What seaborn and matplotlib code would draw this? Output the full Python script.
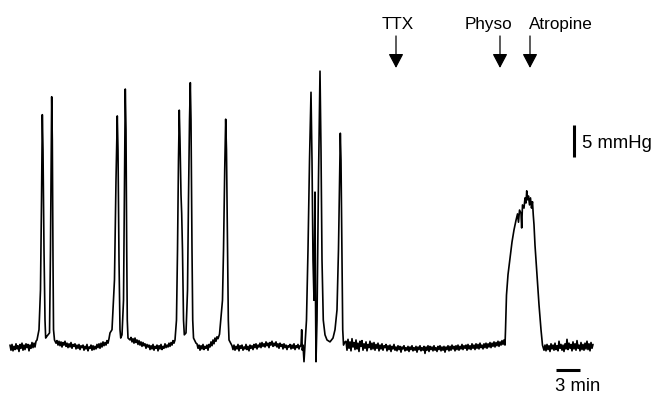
import numpy as np
import pandas as pd
import matplotlib
matplotlib.use("Agg")
import matplotlib.pyplot as plt
import seaborn as sns

# ---- data: intraluminal pressure trace (time in min, pressure in mmHg above baseline) ----
# baseline stretches are sampled every 0.125 min starting at the given time
SAMPLE_STEP = 0.125

base1_start = 0.0
base1_p = [0.3, -0.5, 0.4, -0.6, 0.1, -0.4, 0.5, -0.3, 0.2, -0.7, 0.4, -0.2, 0.6, -0.5,
           0.3, -0.4, 0.5, -0.1, 0.4, -0.6, 0.3, -0.2, 0.7, -0.1, 0.6, 0.0, 0.9]

burst1_t = [3.375, 3.625, 3.81, 3.94, 4.04, 4.125, 4.25, 4.375, 4.46, 4.625, 4.94, 5.06,
            5.15, 5.21, 5.29, 5.375, 5.44, 5.56, 5.75]
burst1_p = [1.1, 2.7, 8.9, 23.0, 36.3, 30.8, 15.2, 4.2, 1.4, 1.7, 2.2, 15.2,
            30.8, 39.1, 32.3, 13.6, 2.7, 1.1, 0.6]

base2_start = 5.875
base2_p = [1.0, 0.3, 0.9, 0.2, 0.8, 0.0, 0.7, 0.3, 0.9, 0.1,
           0.6, -0.1, 0.5, 0.0, 0.7, -0.2, 0.4, 0.1, 0.5, -0.3,
           0.3, -0.2, 0.4, -0.4, 0.2, -0.1, 0.3, -0.5, 0.1, -0.3,
           0.4, -0.6, 0.0, -0.2, 0.3, -0.5, 0.2, -0.4, 0.1, -0.3,
           0.4, -0.1, 0.5, -0.2, 0.6, 0.0, 0.8, 0.2, 0.7, 0.3,
           1.0, 0.6, 1.3]

burst2_t = [12.5, 12.75, 13.06, 13.25, 13.41, 13.5, 13.625, 13.75, 13.84, 14.0, 14.19,
            14.31, 14.41, 14.5, 14.59, 14.66, 14.75, 15.0]
burst2_p = [2.2, 2.7, 10.5, 26.1, 36.1, 30.8, 13.6, 2.7, 1.4, 1.9, 7.3,
            26.1, 40.3, 33.9, 15.2, 4.2, 1.4, 1.1]

base3_start = 15.125
base3_p = [1.5, 0.8, 1.3, 0.6, 1.4, 0.7, 1.1, 0.4, 1.0, 0.3,
           0.8, 0.1, 0.7, 0.2, 0.5, -0.2, 0.4, 0.0, 0.3, -0.4,
           0.2, -0.3, 0.4, -0.5, 0.1, -0.2, 0.3, -0.6, 0.2, -0.3,
           0.4, -0.4, 0.1, -0.2, 0.5, -0.1, 0.3, 0.0, 0.6, 0.1,
           0.7, 0.3, 1.0, 0.6]

burst3_t = [20.625, 20.81, 20.94, 21.06, 21.16, 21.25, 21.375, 21.46, 21.56, 21.69, 21.79,
            22.0, 22.19, 22.31, 22.44, 22.54, 22.625, 22.75, 22.84, 22.94, 23.25]
burst3_p = [1.1, 4.2, 15.2, 29.2, 37.0, 32.3, 23.8, 20.9, 15.2, 4.2, 1.9,
            2.2, 8.9, 23.0, 35.5, 41.3, 35.5, 15.2, 4.2, 1.4, 0.6]

base4_start = 23.375
base4_p = [0.5, -0.2, 0.3, -0.5, 0.2, -0.3, 0.4, -0.4, 0.1, -0.2,
           0.3, -0.5, 0.4, 0.0, 0.8, 0.2, 1.1, 0.5, 1.4, 0.9, 1.6, 1.3]

burst4_t = [26.19, 26.375, 26.56, 26.69, 26.84, 26.96, 27.06, 27.19, 27.29, 27.375, 27.625]
burst4_p = [2.0, 4.7, 7.3, 15.2, 27.7, 35.6, 30.8, 15.2, 4.2, 1.1, 0.5]

base5_start = 27.75
base5_p = [0.2, -0.4, 0.3, -0.5, 0.1, -0.3, 0.4, -0.6, 0.2, -0.2,
           0.3, -0.5, 0.0, -0.3, 0.4, -0.4, 0.1, -0.6, 0.3, -0.2,
           0.2, -0.4, 0.4, -0.1, 0.5, -0.3, 0.3, 0.0, 0.6, -0.1,
           0.7, 0.1, 0.5, 0.0, 0.8, 0.2, 0.6, -0.1, 0.7, 0.3,
           0.9, 0.1, 0.6, 0.2, 0.8, 0.0, 0.5, -0.2, 0.6, 0.1,
           0.4, -0.3, 0.5, -0.1, 0.3, -0.4, 0.2, 0.0, 0.4, -0.3,
           0.3, -0.2, 0.5, -0.4, 0.2, -0.1, 0.4, -0.3, 0.2]

burst5_t = [36.375, 36.46, 36.54, 36.625, 36.75, 36.875, 37.06, 37.25, 37.44, 37.625, 37.75,
            37.875, 38.0, 38.125, 38.19, 38.25, 38.375, 38.56, 38.75, 38.875, 39.0, 39.16,
            39.375, 39.625, 40.0, 40.375, 40.625, 40.875, 41.06, 41.19, 41.29, 41.375, 41.5,
            41.59, 41.69, 41.875]
burst5_p = [0.2, 2.7, -0.5, 0.3, -2.3, 0.3, 4.2, 15.2, 29.2, 39.8, 29.2,
            13.6, 7.3, 24.2, 7.3, -2.3, 4.2, 26.1, 43.1, 30.8, 13.6, 4.2,
            1.9, 1.1, 0.8, 1.4, 2.7, 5.8, 15.2, 26.1, 33.4, 29.2, 13.6,
            2.7, 0.3, 0.8]

base6_start = 42.0
base6_p = [0.9, -0.5, 1.2, -0.2, 0.8, -0.6, 1.3, 0.0, 0.7, -0.4,
           1.1, -0.3, 0.6, -0.7, 0.9, 0.1, 1.0, -0.5, 0.5, -0.2,
           0.8, -0.6, 0.4, -0.1, 0.9, -0.4, 0.6, -0.3, 0.7, -0.5,
           0.4, -0.2, 0.6, -0.6, 0.3, -0.3, 0.5, -0.5, 0.2, -0.1,
           0.4, -0.6, 0.2, -0.4, 0.3, -0.7, 0.1, -0.3, 0.4, -0.5,
           0.0, -0.6, 0.2, -0.4, 0.1, -0.8, 0.0, -0.3, 0.2, -0.6,
           -0.1, -0.5, 0.1, -0.7, 0.0, -0.4, 0.2, -0.6, -0.1, -0.5,
           0.1, -0.8, 0.0, -0.4, 0.2, -0.6, -0.1, -0.5, 0.1, -1.0,
           0.0, -0.5, 0.2, -0.7, 0.1, -0.4, 0.0, -0.6, 0.2, -0.5,
           -0.1, -0.7, 0.1, -0.4, 0.2, -0.6, 0.0, -0.5, 0.1, -0.8,
           0.0, -0.4, 0.2, -0.6, 0.1, -0.5, 0.3, -0.3, 0.1, -0.6,
           0.2, -0.4, 0.3, -0.5, 0.1, -0.3, 0.4, -0.4, 0.2, -0.2,
           0.3, -0.5, 0.4, -0.3, 0.2, -0.4, 0.5, -0.2, 0.3, -0.4,
           0.5, -0.2, 0.4, -0.3, 0.6, -0.1, 0.3, -0.3, 0.5, -0.1,
           0.6, -0.2, 0.5, 0.0, 0.7, -0.1, 0.6, 0.1, 0.8, 0.0,
           0.7, 0.2, 0.9, 0.1, 0.8, 0.3, 1.0, 0.4, 1.1]

plateau_t = [61.875, 61.94, 62.06, 62.25, 62.5, 62.75, 63.0, 63.25, 63.44, 63.56, 63.69,
             63.875, 63.96, 64.06, 64.25, 64.375, 64.5, 64.59, 64.69, 64.81, 64.94, 65.06,
             65.19, 65.31, 65.41, 65.5, 65.625, 65.875, 66.125, 66.375, 66.56, 66.75]
plateau_p = [0.3, 2.7, 8.1, 11.3, 13.9, 16.4, 18.3, 19.8, 20.8, 19.5, 21.4,
             20.9, 18.6, 22.2, 21.7, 23.3, 22.5, 24.4, 23.0, 23.6, 22.2, 23.3,
             21.7, 22.7, 20.6, 19.1, 15.9, 11.3, 6.6, 2.7, 0.3, -0.5]

base7_start = 66.875
base7_p = [0.3, -0.6, 0.4, -0.4, 0.2, -0.7, 0.5, -0.3, 0.3, -0.5,
           0.6, -0.4, 0.2, -0.6, 0.9, -0.2, 0.4, -0.5, 0.3, -0.7,
           0.5, -0.3, 1.2, -0.4, 0.6, -0.2, 0.4, -0.6, 0.8, -0.3,
           0.5, -0.5, 1.0, -0.2, 0.3, -0.6, 0.7, -0.4, 0.4, -0.5,
           0.6, -0.3, 0.9, -0.4, 0.5, -0.6, 0.7, -0.2, 0.4]

drug_labels = ["TTX", "Physo", "Atropine"]
drug_times = [48.25, 61.25, 65.0]

scale_p = 5      # mmHg
scale_t = 3      # min


# ---- assemble ----
def sampled(start, values):
    return list(start + SAMPLE_STEP * np.arange(len(values)))


t_all = (sampled(base1_start, base1_p) + burst1_t + sampled(base2_start, base2_p) + burst2_t
         + sampled(base3_start, base3_p) + burst3_t + sampled(base4_start, base4_p) + burst4_t
         + sampled(base5_start, base5_p) + burst5_t + sampled(base6_start, base6_p)
         + plateau_t + sampled(base7_start, base7_p))
p_all = (base1_p + burst1_p + base2_p + burst2_p + base3_p + burst3_p + base4_p + burst4_p
         + base5_p + burst5_p + base6_p + plateau_p + base7_p)
df = pd.DataFrame({"time": t_all, "pressure": p_all})

sns.set_theme(style="white")
plt.rcParams["font.family"] = ["Liberation Sans", "DejaVu Sans"]

fig = plt.figure(figsize=(6.59, 3.97), dpi=100)
ax = fig.add_axes([0, 0, 1, 1])
sns.lineplot(data=df, x="time", y="pressure", sort=False, estimator=None,
             color="black", linewidth=1.2, ax=ax)

ax.set_xlim(-1.25, 81.125)
ax.set_ylim(-7.8125, 54.21875)
ax.set_axis_off()

# drug application arrows
label_x = [48.4, 59.75, 68.9]
for lab, t, lx in zip(drug_labels, drug_times, label_x):
    ax.annotate("", xy=(t, 43.6), xytext=(t, 48.6),
                arrowprops=dict(arrowstyle="-|>,head_length=0.72,head_width=0.38",
                                color="black", lw=0.9, shrinkA=0, shrinkB=0))
    ax.text(lx, 49.7, lab, ha="center", va="baseline", fontsize=12.3, color="black")

# scale bars
ax.plot([70.55, 70.55], [29.7, 29.7 + scale_p], color="black", lw=2.2,
        solid_capstyle="butt")
ax.text(71.45, 31.15, f"{scale_p} mmHg", ha="left", va="baseline", fontsize=13.3,
        color="black")
ax.plot([68.3, 68.3 + scale_t], [-3.6, -3.6], color="black", lw=2.2,
        solid_capstyle="butt")
ax.text(71.0, -6.9, f"{scale_t} min", ha="center", va="baseline", fontsize=13.3,
        color="black")

fig.savefig("out.png", dpi=100)
